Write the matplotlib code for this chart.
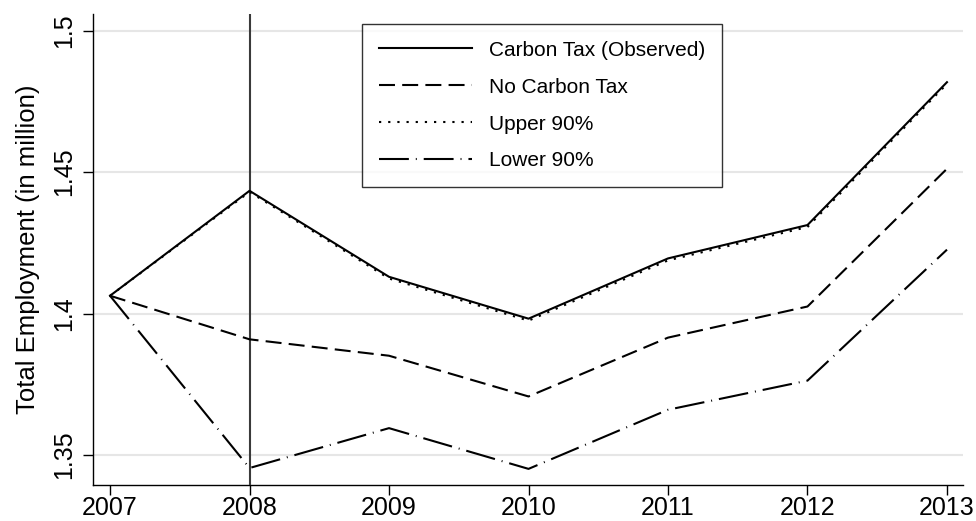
import matplotlib
matplotlib.use("Agg")
import matplotlib.pyplot as plt

plt.rcParams['font.family'] = ['Liberation Sans', 'DejaVu Sans']
plt.rcParams['lines.scale_dashes'] = False

years = [2007, 2008, 2009, 2010, 2011, 2012, 2013]
observed = [1.4063, 1.4434, 1.4130, 1.3982, 1.4195, 1.4313, 1.4818]
no_tax = [1.4063, 1.3909, 1.3851, 1.3707, 1.3915, 1.4025, 1.4512]
upper90 = [1.4063, 1.4430, 1.4124, 1.3975, 1.4188, 1.4306, 1.4812]
lower90 = [1.4063, 1.3454, 1.3595, 1.3451, 1.3660, 1.3763, 1.4226]
yticks = [1.35, 1.4, 1.45, 1.5]
ytick_labels = ['1.35', '1.4', '1.45', '1.5']
treat_year = 2008

fig = plt.figure(figsize=(9.76, 5.21), dpi=100)
ax = fig.add_axes([0.0953, 0.0691, 0.8914, 0.904])

lw = 1.5
ax.plot(years, observed, color='black', lw=lw, label='Carbon Tax (Observed)', zorder=4)
ax.plot(years, no_tax, color='black', lw=lw, dashes=(11.5, 5.2), label='No Carbon Tax', zorder=4)
ax.plot(years, upper90, color='black', lw=lw, dashes=(1.6, 5.0), label='Upper 90%', zorder=4)
ax.plot(years, lower90, color='black', lw=lw, dashes=(21.5, 5.0, 0.7, 5.0), label='Lower 90%', zorder=4)

ax.axvline(treat_year, color='#3a3a3a', lw=1.5, zorder=3)

ax.set_xlim(2006.878, 2013.115)
ax.set_ylim(1.3394, 1.5059)
ax.set_xticks(years)
ax.set_xticklabels([str(y) for y in years], fontsize=18)
ax.set_yticks(yticks)
ax.set_yticklabels(ytick_labels, fontsize=18, rotation=90, va='center')
ax.tick_params(direction='out', length=7, width=1, color='black')
ax.tick_params(axis='x', pad=1)
ax.tick_params(axis='y', pad=5)
ax.grid(axis='y', color='#e6e6e6', lw=1.5, zorder=0)
ax.set_axisbelow(True)
for s in ['top', 'right']:
    ax.spines[s].set_visible(False)
for s in ['left', 'bottom']:
    ax.spines[s].set_linewidth(1.0)
ax.set_ylabel('Total Employment (in million)', fontsize=18.5)
ax.yaxis.set_label_coords(-0.061, 0.5)

leg = ax.legend(loc='upper left', bbox_to_anchor=(362 / 976, 1 - 24 / 521),
                bbox_transform=fig.transFigure,
                fontsize=15, frameon=True, fancybox=False, edgecolor='black',
                handlelength=4.5, labelspacing=0.86, handletextpad=0.8,
                borderpad=0.8, borderaxespad=0)
leg.get_frame().set_linewidth(1.0)

fig.savefig('out.png', dpi=100)
